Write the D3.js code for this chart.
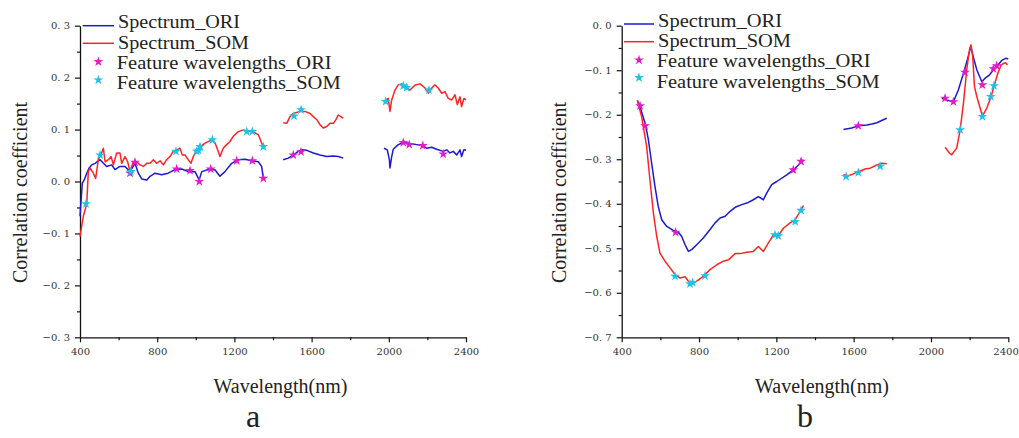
<!DOCTYPE html>
<html><head><meta charset="utf-8">
<script src="https://cdn.jsdelivr.net/npm/d3@7"></script>
<style>
html,body{margin:0;padding:0;background:#fff;}
svg{display:block;}
</style>
</head><body>
<svg id="chart" width="1019" height="438"></svg>
<script>
// ---------- Data (wavelength in nm, correlation coefficient); null = gap ----------
const xTicks = [400, 800, 1200, 1600, 2000, 2400];
const xMinorTicks = [600, 1000, 1400, 1800, 2200];
const yTicksA = [-0.3, -0.2, -0.1, 0.0, 0.1, 0.2, 0.3];
const yTicksB = [-0.7, -0.6, -0.5, -0.4, -0.3, -0.2, -0.1, 0.0];
const legendLabels = ["Spectrum_ORI", "Spectrum_SOM", "Feature wavelengths_ORI", "Feature wavelengths_SOM"];

// Panel a: Spectrum_ORI
const aOriWl = [400,412,422,435,447,461,478,504,519,538,564,581,607,633,659,685,702,720,746,763,789,823,857,892,927,961,996,1017,1031,1074,1100,1125,1151,1186,1220,1255,1290,1324,1341,1350,
  null,
  1453,1479,1505,1531,1549,1575,1609,1644,1678,1713,1738,1764,
  null,
  1975,1992,2003,2006,2015,2023,2049,2075,2110,2145,2179,2196,2222,2248,2282,2300,2317,2334,2352,2369,2377,2389,2400];
const aOriVal = [-0.067,-0.003,0.003,0.016,0.026,0.032,0.035,0.042,0.036,0.029,0.032,0.023,0.029,0.029,0.019,0.035,0.016,0.005,0.003,0.010,0.016,0.013,0.016,0.023,0.024,0.019,0.019,0.003,0.019,0.024,0.022,0.010,0.019,0.035,0.042,0.043,0.040,0.038,0.029,0.006,
  null,
  0.042,0.045,0.051,0.058,0.061,0.060,0.055,0.051,0.048,0.049,0.048,0.045,
  null,
  0.064,0.061,0.042,0.026,0.048,0.062,0.071,0.075,0.073,0.071,0.069,0.064,0.066,0.062,0.058,0.061,0.055,0.058,0.051,0.061,0.048,0.061,0.060];

// Panel a: Spectrum_SOM
const aSomWl = [400,417,435,443,452,469,481,495,512,521,530,547,561,573,590,607,616,633,647,659,676,694,711,728,746,763,780,797,815,832,849,866,883,901,918,930,944,961,975,987,1005,1022,1048,1082,1100,1113,1125,1142,1160,1177,1194,1220,1246,1272,1290,1324,1332,1341,1350,
  null,
  1453,1471,1488,1505,1540,1566,1592,1609,1627,1644,1661,1678,1695,1713,1726,1738,1752,1764,
  null,
  1975,1997,2006,2015,2032,2049,2067,2093,2110,2136,2162,2188,2205,2222,2239,2256,2274,2291,2308,2326,2343,2355,2369,2377,2389,2400];
const aSomVal = [-0.106,-0.067,-0.043,0.019,0.026,0.016,0.006,0.042,0.055,0.064,0.038,0.042,0.048,0.032,0.055,0.055,0.035,0.048,0.038,0.019,0.038,0.038,0.032,0.029,0.035,0.035,0.042,0.035,0.040,0.032,0.042,0.048,0.058,0.061,0.064,0.051,0.051,0.042,0.035,0.048,0.061,0.067,0.074,0.080,0.074,0.061,0.048,0.064,0.071,0.077,0.087,0.096,0.099,0.096,0.098,0.090,0.083,0.074,0.067,
  null,
  0.113,0.112,0.125,0.131,0.135,0.135,0.131,0.125,0.119,0.109,0.103,0.106,0.112,0.112,0.119,0.128,0.125,0.122,
  null,
  0.154,0.160,0.135,0.157,0.176,0.186,0.188,0.181,0.176,0.186,0.188,0.180,0.170,0.180,0.186,0.180,0.170,0.173,0.160,0.157,0.167,0.148,0.163,0.144,0.160,0.157];

// Panel a: feature wavelengths
const aFeatOriWl = [659,685,901,970,1018,1077,1212,1293,1350,1505,1545,2075,2106,2176,2282];
const aFeatOriVal = [0.016,0.037,0.024,0.021,0.0,0.024,0.040,0.040,0.006,0.051,0.057,0.075,0.071,0.069,0.053];
const aFeatSomWl = [431,504,663,897,1005,1014,1022,1086,1264,1293,1350,1509,1545,1984,2075,2093,2208];
const aFeatSomVal = [-0.043,0.051,0.019,0.058,0.058,0.060,0.067,0.080,0.096,0.096,0.067,0.126,0.138,0.154,0.184,0.181,0.176];

// Panel b: Spectrum_ORI
const bOriWl = [481,495,521,538,555,572,589,607,633,667,693,710,728,745,762,788,822,857,883,909,935,961,987,1021,1055,1081,1107,1133,1150,1176,1202,1254,1288,1314,1340,
  null,
  1547,1590,1624,1668,1694,1720,1745,1771,
  null,
  2056,2082,2116,2142,2168,2188,2206,2219,2237,2263,2280,2302,2323,2340,2366,2389,2400];
const bOriVal = [-0.168,-0.182,-0.219,-0.256,-0.309,-0.361,-0.406,-0.436,-0.451,-0.460,-0.464,-0.473,-0.492,-0.507,-0.503,-0.492,-0.477,-0.458,-0.443,-0.432,-0.428,-0.417,-0.408,-0.402,-0.397,-0.391,-0.384,-0.391,-0.376,-0.357,-0.350,-0.335,-0.324,-0.313,-0.301,
  null,
  -0.233,-0.230,-0.225,-0.223,-0.221,-0.218,-0.213,-0.208,
  null,
  -0.163,-0.167,-0.171,-0.144,-0.107,-0.077,-0.047,-0.070,-0.099,-0.126,-0.118,-0.111,-0.099,-0.092,-0.078,-0.073,-0.075];

// Panel b: Spectrum_SOM
const bSomWl = [481,503,529,546,564,581,598,624,650,676,702,728,745,762,788,822,857,892,926,952,987,1012,1047,1081,1107,1133,1159,1185,1210,1236,1271,1297,1323,1340,
  null,
  1547,1573,1598,1624,1659,1685,1720,1745,1771,
  null,
  2073,2095,2107,2133,2151,2168,2185,2199,2207,2216,2225,2237,2254,2266,2289,2311,2328,2346,2363,2384,2396];
const bSomVal = [-0.168,-0.204,-0.271,-0.346,-0.421,-0.473,-0.511,-0.529,-0.544,-0.559,-0.567,-0.564,-0.574,-0.580,-0.574,-0.563,-0.548,-0.537,-0.529,-0.526,-0.512,-0.512,-0.509,-0.507,-0.496,-0.507,-0.488,-0.470,-0.472,-0.455,-0.443,-0.436,-0.417,-0.404,
  null,
  -0.335,-0.337,-0.333,-0.328,-0.322,-0.320,-0.313,-0.309,-0.310,
  null,
  -0.273,-0.286,-0.290,-0.275,-0.234,-0.174,-0.099,-0.054,-0.043,-0.070,-0.137,-0.159,-0.185,-0.203,-0.185,-0.159,-0.133,-0.107,-0.088,-0.083,-0.088];

// Panel b: feature wavelengths
const bFeatOriWl = [495,521,679,1288,1328,1624,2073,2116,2176,2266,2323,2340];
const bFeatOriVal = [-0.180,-0.225,-0.464,-0.324,-0.305,-0.225,-0.163,-0.171,-0.105,-0.133,-0.097,-0.090];
const bFeatSomWl = [676,753,767,831,1193,1210,1297,1328,1561,1624,1737,2151,2266,2309,2326];
const bFeatSomVal = [-0.563,-0.580,-0.577,-0.562,-0.470,-0.472,-0.440,-0.415,-0.339,-0.330,-0.316,-0.234,-0.204,-0.159,-0.135];

// ---------- Drawing ----------
const COL_ORI = "#1a1ad2", COL_SOM = "#ff2424", COL_FORI = "#e619c8", COL_FSOM = "#1ec2e6";
const SERIF = "Liberation Serif, Times New Roman, serif";
const TICKFONT = "DejaVu Serif, serif";
const svg = d3.select("#chart");

const zip = (xs, ys) => xs.map((x, i) => ({x, y: ys[i]}));
const fmt = v => d3.format(".1f")(v).replace(".", ". ");

function panel(cfg) {
  const x = d3.scaleLinear().domain([400, 2400]).range([cfg.x0, cfg.x1]);
  const y = d3.scaleLinear().domain(cfg.yDomain).range([337.3, 25.7]);
  const g = svg.append("g");

  // minor ticks
  g.append("g").attr("transform", `translate(0,${y.range()[0]})`)
    .call(d3.axisBottom(x).tickValues(xMinorTicks).tickSize(3).tickFormat(""))
    .call(s => s.select(".domain").remove());
  const yMinor = d3.range(cfg.yDomain[0] + 0.05, cfg.yDomain[1], 0.1);
  g.append("g").attr("transform", `translate(${cfg.x0},0)`)
    .call(d3.axisLeft(y).tickValues(yMinor).tickSize(3).tickFormat(""))
    .call(s => s.select(".domain").remove());

  // major axes
  const xa = g.append("g").attr("transform", `translate(0,${y.range()[0]})`)
    .call(d3.axisBottom(x).tickValues(xTicks).tickSize(5).tickSizeOuter(0).tickPadding(6).tickFormat(d3.format("d")));
  const ya = g.append("g").attr("transform", `translate(${cfg.x0},0)`)
    .call(d3.axisLeft(y).tickValues(cfg.yTicks).tickSize(5).tickSizeOuter(0).tickPadding(5).tickFormat(fmt));
  [xa, ya].forEach(a => {
    a.selectAll("path.domain").attr("stroke", "#111").attr("stroke-width", 1.3);
    a.selectAll(".tick text").style("font-family", TICKFONT).attr("font-size", 10).attr("fill", "#333");
  });
  g.selectAll(".tick line").attr("stroke", "#111").attr("stroke-width", 1.2);
  if (cfg.lastTickAnchor) xa.selectAll(".tick:last-of-type text").attr("text-anchor", "end").attr("dx", 10);

  // lines
  const line = d3.line().defined(d => d.x != null && d.y != null).x(d => x(d.x)).y(d => y(d.y));
  g.append("path").datum(zip(cfg.oriWl, cfg.oriVal)).attr("d", line)
    .attr("fill", "none").attr("stroke", COL_ORI).attr("stroke-width", 1.5).attr("stroke-linejoin", "round");
  g.append("path").datum(zip(cfg.somWl, cfg.somVal)).attr("d", line)
    .attr("fill", "none").attr("stroke", COL_SOM).attr("stroke-width", 1.5).attr("stroke-linejoin", "round");

  // stars
  const star = d3.symbol().type(d3.symbolStar).size(30);
  g.append("g").selectAll("path").data(zip(cfg.fOriWl, cfg.fOriVal)).join("path")
    .attr("d", star).attr("transform", d => `translate(${x(d.x)},${y(d.y)})`).attr("fill", COL_FORI);
  g.append("g").selectAll("path").data(zip(cfg.fSomWl, cfg.fSomVal)).join("path")
    .attr("d", star).attr("transform", d => `translate(${x(d.x)},${y(d.y)})`).attr("fill", COL_FSOM);

  // legend
  const L = cfg.legend;
  const lg = g.append("g").style("font-family", SERIF).attr("font-size", 18).attr("fill", "#222");
  lg.append("line").attr("x1", L.lx0).attr("x2", L.lx1).attr("y1", L.y[0]).attr("y2", L.y[0]).attr("stroke", COL_ORI).attr("stroke-width", 1.5);
  lg.append("line").attr("x1", L.lx0).attr("x2", L.lx1).attr("y1", L.y[1]).attr("y2", L.y[1]).attr("stroke", COL_SOM).attr("stroke-width", 1.5);
  lg.append("path").attr("d", star).attr("transform", `translate(${(L.lx0 + L.lx1) / 2},${L.y[2]})`).attr("fill", COL_FORI);
  lg.append("path").attr("d", star).attr("transform", `translate(${(L.lx0 + L.lx1) / 2},${L.y[3]})`).attr("fill", COL_FSOM);
  legendLabels.forEach((t, i) => {
    lg.append("text").attr("x", i < 2 ? L.tx0 : L.tx1).attr("y", L.base[i])
      .attr("textLength", L.w[i]).attr("lengthAdjust", "spacingAndGlyphs").text(t);
  });

  // axis titles
  g.append("text").style("font-family", SERIF).attr("font-size", 20).attr("fill", "#222")
    .attr("text-anchor", "middle").attr("transform", `translate(${cfg.yTitleX},192.5) rotate(-90)`)
    .text("Correlation coefficient");
  g.append("text").style("font-family", SERIF).attr("font-size", 20).attr("fill", "#222")
    .attr("text-anchor", "middle").attr("x", cfg.xTitleX).attr("y", 392.5).text("Wavelength(nm)");
  g.append("text").style("font-family", SERIF).attr("font-size", 32).attr("fill", "#222")
    .attr("text-anchor", "middle").attr("x", cfg.letterX).attr("y", 427).text(cfg.letter);
}

panel({
  x0: 80, x1: 466, yDomain: [-0.3, 0.3], yTicks: yTicksA,
  oriWl: aOriWl, oriVal: aOriVal, somWl: aSomWl, somVal: aSomVal,
  fOriWl: aFeatOriWl, fOriVal: aFeatOriVal, fSomWl: aFeatSomWl, fSomVal: aFeatSomVal,
  legend: {lx0: 82.7, lx1: 114, tx0: 118, tx1: 116.7, y: [25.7, 43.3, 61.7, 80],
           base: [28, 48.5, 68.5, 88.5], w: [122, 131, 215, 224]},
  yTitleX: 27, xTitleX: 280.5, letterX: 253, letter: "a"
});
panel({
  x0: 621.7, x1: 1008.3, yDomain: [-0.7, 0], yTicks: yTicksB,
  oriWl: bOriWl, oriVal: bOriVal, somWl: bSomWl, somVal: bSomVal,
  fOriWl: bFeatOriWl, fOriVal: bFeatOriVal, fSomWl: bFeatSomWl, fSomVal: bFeatSomVal,
  legend: {lx0: 624, lx1: 654, tx0: 658, tx1: 656.7, y: [24, 41.7, 60, 77.7],
           base: [27, 47.2, 67.4, 87.6], w: [124, 133, 214, 223]},
  yTitleX: 566, xTitleX: 822, letterX: 805, letter: "b", lastTickAnchor: true
});
</script>
</body></html>
